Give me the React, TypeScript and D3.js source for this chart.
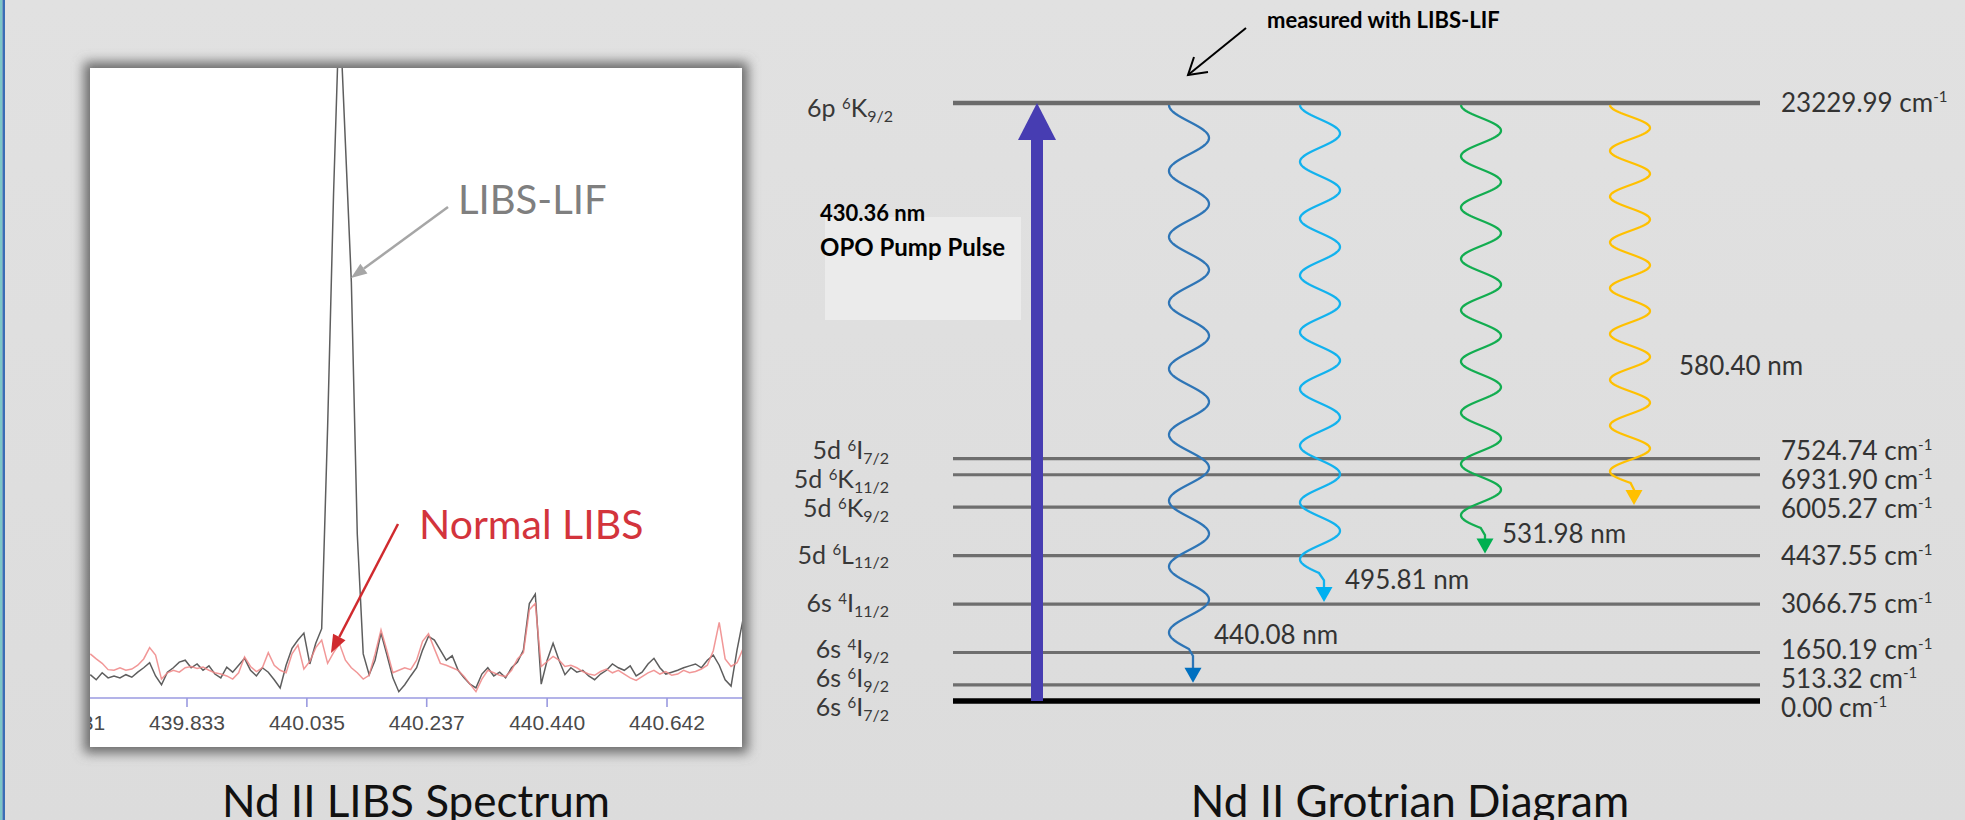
import React from 'react';
import * as d3 from 'd3';

// ---------- LIBS spectrum (left) ----------
const lifCounts = [
  37, 29, 40, 32, 35, 32, 37, 33, 41, 48,
  56, 35, 21, 41, 48, 57, 60, 48, 54, 44,
  51, 38, 32, 49, 41, 52, 63, 44, 35, 48,
  41, 29, 16, 52, 79, 92, 103, 54, 87, 110,
  430, 800, 1100, 880, 660, 260, 70, 37, 60, 103,
  68, 32, 10, 21, 35, 48, 76, 98, 92, 76,
  60, 67, 44, 32, 22, 16, 38, 48, 35, 41,
  32, 48, 57, 76, 150, 165, 22, 60, 87, 60,
  37, 48, 41, 44, 35, 29, 38, 44, 54, 48,
  44, 51, 35, 41, 54, 63, 48, 38, 41, 44,
  48, 51, 54, 48, 60, 68, 52, 29, 19, 76,
  124,
];
const libsCounts = [
  70, 62, 55, 45, 44, 48, 44, 46, 52, 62,
  80, 68, 30, 40, 44, 41, 48, 50, 47, 49,
  44, 40, 38, 35, 30, 40, 65, 50, 42, 48,
  72, 52, 44, 40, 70, 84, 46, 58, 80, 92,
  55, 72, 86, 60, 48, 40, 30, 36, 70, 108,
  75, 40, 44, 48, 45, 60, 90, 102, 78, 55,
  52, 48, 44, 34, 22, 10, 30, 44, 40, 36,
  34, 44, 62, 72, 140, 150, 50, 58, 66, 60,
  50, 52, 48, 42, 38, 36, 42, 46, 40, 44,
  38, 32, 28, 34, 40, 44, 38, 42, 36, 38,
  44, 40, 42, 46, 52, 75, 120, 62, 50, 56,
  78,
];
// sampling grid of the spectrometer, 0.01 nm
const wavelengths = lifCounts.map((_, i) => 439.67 + i * 0.01);
const tickValues = [439.631, 439.833, 440.035, 440.237, 440.44, 440.642];
const tickLabels = ['439.631', '439.833', '440.035', '440.237', '440.440', '440.642'];

// ---------- Grotrian diagram (right) ----------
const levelConfig = ['6s', '6s', '6s', '6s', '5d', '5d', '5d', '5d', '6p'];
const levelMult = ['6', '6', '4', '4', '6', '6', '6', '6', '6'];
const levelTerm = ['I', 'I', 'I', 'I', 'L', 'K', 'K', 'I', 'K'];
const levelJ = ['7/2', '9/2', '9/2', '11/2', '11/2', '9/2', '11/2', '7/2', '9/2'];
const levelEnergy = [0.0, 513.32, 1650.19, 3066.75, 4437.55, 6005.27, 6931.9, 7524.74, 23229.99];
// diagram is not to scale: schematic row of each level
const levelRow = [0, 1, 3, 6, 9, 12, 14, 15, 37];

const transLabel = ['440.08', '495.81', '531.98', '580.40'];
const transLower = [1, 3, 4, 5];
const pumpLabel = '430.36 nm';

const transColor = ['#2e75b6', '#12b2ee', '#12ad50', '#ffc000'];
const headColor = ['#0070c0', '#00b0f0', '#00b050', '#ffc000'];
const waveColumns = [1189, 1320, 1481, 1630];
const nmOffset = [[21, -39], [21, -13], [17, -11], [45, -130]];

const FONT = 'Lato, "Open Sans", sans-serif';

function head(x1: number, y1: number, x2: number, y2: number, len: number, wid: number) {
  const a = Math.atan2(y2 - y1, x2 - x1);
  const bx = x2 - len * Math.cos(a), by = y2 - len * Math.sin(a);
  const px = (Math.sin(a) * wid) / 2, py = (-Math.cos(a) * wid) / 2;
  return { pts: `${x2},${y2} ${bx + px},${by + py} ${bx - px},${by - py}`, bx, by };
}

function spread(ys: number[], gap: number) {
  const order = ys.map((_, i) => i).sort((a, b) => ys[a] - ys[b]);
  const out = ys.slice();
  for (let it = 0; it < 200; it++) {
    for (let k = 1; k < order.length; k++) {
      const a = order[k - 1], b = order[k];
      const d = out[b] - out[a];
      if (d < gap) {
        const s = (gap - d) / 2;
        out[a] -= s;
        out[b] += s;
      }
    }
  }
  return out;
}

function Term(props: { x: number; y: number; i: number; size: number }) {
  const { x, y, i, size } = props;
  const up = size * 0.34, down = size * 0.18;
  return (
    <text x={x} y={y} textAnchor="end" fontSize={size} fill="#383838" fontFamily={FONT}>
      <tspan>{levelConfig[i] + ' '}</tspan>
      <tspan fontSize={size * 0.6} dy={-up}>{levelMult[i]}</tspan>
      <tspan dy={up}>{levelTerm[i]}</tspan>
      <tspan fontSize={size * 0.64} dy={down}>{levelJ[i]}</tspan>
    </text>
  );
}

export default function App() {
  // spectrum scales
  const box = { x0: 90, x1: 742, y0: 68, y1: 747 };
  const x = d3.scaleLinear().domain([439.833, 440.642]).range([187, 667]);
  const y = d3.scaleLinear().domain([0, 1000]).range([698, 68]);
  const spec = d3.line<number>().x((_, i) => x(wavelengths[i])).y((d) => y(d));

  // grotrian scales
  const yRow = d3.scaleLinear().domain([0, 37]).range([701, 103]);
  const lx0 = 953, lx1 = 1760;
  const pumpX = 1037;
  const waveX = d3.scaleOrdinal<string, number>().domain(transLabel).range(waveColumns);
  const top = levelRow.length - 1;
  const yTop = yRow(levelRow[top]);
  const lowerY = levelRow.slice(0, top).map((r) => yRow(r));
  const labelY = spread(lowerY, 29);

  const A = 20;
  const waves = transLabel.map((t, k) => {
    const cx = waveX(t);
    const yLow = yRow(levelRow[transLower[k]]);
    const span = yLow - yTop;
    const L = span * 0.935;
    const pts: [number, number][] = d3.range(0, L + 0.5, 1).map((s) => [
      cx - A * Math.cos((2 * Math.PI * 8.25 * s) / L),
      yTop + 2 + s,
    ]);
    const tipY = yLow - 2;
    const stemX = cx + 4;
    pts.push([stemX, yTop + 2 + L + 7]);
    pts.push([stemX, tipY - 14]);
    return { cx, stemX, tipY, d: d3.line()(pts) as string, k };
  });

  const lif = head(448, 207, 351, 278, 16, 12);
  const red = head(398, 524, 331, 653, 18, 14);

  return (
    <div style={{ position: 'absolute', left: 0, top: 0 }}>
      <svg width={1965} height={820} style={{ display: 'block' }}>
        <defs>
          <filter id="blur" x="-10%" y="-10%" width="120%" height="120%">
            <feGaussianBlur stdDeviation="6" />
          </filter>
          <clipPath id="clipBox">
            <rect x={box.x0} y={box.y0} width={box.x1 - box.x0} height={box.y1 - box.y0} />
          </clipPath>
          <linearGradient id="bg" x1="0" y1="0" x2="0" y2="1">
            <stop offset="0" stopColor="#e1e1e1" />
            <stop offset="1" stopColor="#dcdcdc" />
          </linearGradient>
        </defs>
        <rect width={1965} height={820} fill="url(#bg)" />
        <rect x={0} y={0} width={2.5} height={820} fill="#7cc6c6" />
        <rect x={2.5} y={0} width={2.5} height={820} fill="#3b6db5" />

        {/* ---------- spectrum panel ---------- */}
        <rect x={box.x0 - 6} y={box.y0 - 6} width={box.x1 - box.x0 + 12} height={box.y1 - box.y0 + 12}
          fill="#6a6a6a" filter="url(#blur)" />
        <rect x={box.x0} y={box.y0} width={box.x1 - box.x0} height={box.y1 - box.y0} fill="#ffffff" />
        <g clipPath="url(#clipBox)">
          <line x1={box.x0} x2={box.x1} y1={y(0)} y2={y(0)} stroke="#9a9ae0" strokeWidth={1.6} />
          {tickValues.map((v, i) => (
            <g key={i} transform={`translate(${x(v)},0)`}>
              <line y1={y(0)} y2={y(0) + 9} stroke="#9a9ae0" strokeWidth={1.6} />
              <text y={730} textAnchor="middle" fontSize={21} fill="#4a4a4a"
                fontFamily='"Liberation Sans", Arial, sans-serif'>{tickLabels[i]}</text>
            </g>
          ))}
          <path d={spec(lifCounts) as string} fill="none" stroke="#5e5e5e" strokeWidth={1.5} />
          <path d={spec(libsCounts) as string} fill="none" stroke="#ef8585" strokeWidth={1.5} opacity={0.85} />
        </g>
        <line x1={448} y1={207} x2={lif.bx} y2={lif.by} stroke="#a6a6a6" strokeWidth={2.5} />
        <polygon points={lif.pts} fill="#a6a6a6" />
        <text x={458} y={214} fontSize={40} fill="#7f7f7f" fontFamily={FONT}>LIBS-LIF</text>
        <line x1={398} y1={524} x2={red.bx} y2={red.by} stroke="#d02a2e" strokeWidth={2.5} />
        <polygon points={red.pts} fill="#d02a2e" />
        <text x={419} y={539} fontSize={41} fill="#d3343c" fontFamily={FONT}>Normal LIBS</text>
        <text x={(box.x0 + box.x1) / 2} y={817} textAnchor="middle" fontSize={44} fill="#111"
          fontFamily={FONT}>Nd II LIBS Spectrum</text>

        {/* ---------- Grotrian diagram ---------- */}
        <rect x={825} y={217} width={196} height={103} fill="#ebebeb" />
        <text x={820} y={221} fontSize={22} fontWeight={700} fill="#000" fontFamily={FONT}>{pumpLabel}</text>
        <text x={820} y={256} fontSize={24} fontWeight={700} fill="#000" fontFamily={FONT}>OPO Pump Pulse</text>

        <text x={1267} y={28} fontSize={22} fontWeight={700} fill="#000" fontFamily={FONT}>measured with LIBS-LIF</text>
        <line x1={1246} y1={28} x2={1188} y2={75} stroke="#000" strokeWidth={2} />
        <polyline points="1194,57 1188,75 1208,72" fill="none" stroke="#000" strokeWidth={2} />

        {lowerY.map((ly, i) => (
          <line key={i} x1={lx0} x2={lx1} y1={ly} y2={ly}
            stroke={i === 0 ? '#000' : '#6e6e6e'} strokeWidth={i === 0 ? 5.5 : 3.2} />
        ))}
        <line x1={lx0} x2={lx1} y1={yTop} y2={yTop} stroke="#6b6b6b" strokeWidth={4.5} />

        {/* pump */}
        <rect x={pumpX - 6} y={yTop + 36} width={12} height={yRow(levelRow[0]) - yTop - 36} fill="#473db2" />
        <polygon points={`${pumpX},${yTop} ${pumpX - 19},${yTop + 37} ${pumpX + 19},${yTop + 37}`} fill="#473db2" />

        {waves.map((w) => (
          <g key={w.k}>
            <path d={w.d} fill="none" stroke={transColor[w.k]} strokeWidth={2.3} />
            <polygon points={`${w.stemX},${w.tipY} ${w.stemX - 8.5},${w.tipY - 15} ${w.stemX + 8.5},${w.tipY - 15}`}
              fill={headColor[w.k]} />
            <text x={w.stemX + nmOffset[w.k][0]} y={w.tipY + nmOffset[w.k][1]} fontSize={26} fill="#333"
              fontFamily={FONT}>{transLabel[w.k] + ' nm'}</text>
          </g>
        ))}

        {/* level labels */}
        {lowerY.map((_, i) => (
          <Term key={i} x={889} y={labelY[i] + 8} i={i} size={25} />
        ))}
        <Term x={893} y={yTop + 14} i={top} size={25} />
        {levelEnergy.map((e, i) => {
          const cy = i === top ? yTop : labelY[i];
          return (
            <text key={i} x={1781} y={cy + 9} fontSize={26} fill="#333" fontFamily={FONT}>
              <tspan>{e.toFixed(2) + ' cm'}</tspan>
              <tspan fontSize={15} dy={-10}>-1</tspan>
            </text>
          );
        })}
        <text x={1410} y={817} textAnchor="middle" fontSize={44} fill="#111" fontFamily={FONT}>Nd II Grotrian Diagram</text>
      </svg>
    </div>
  );
}
